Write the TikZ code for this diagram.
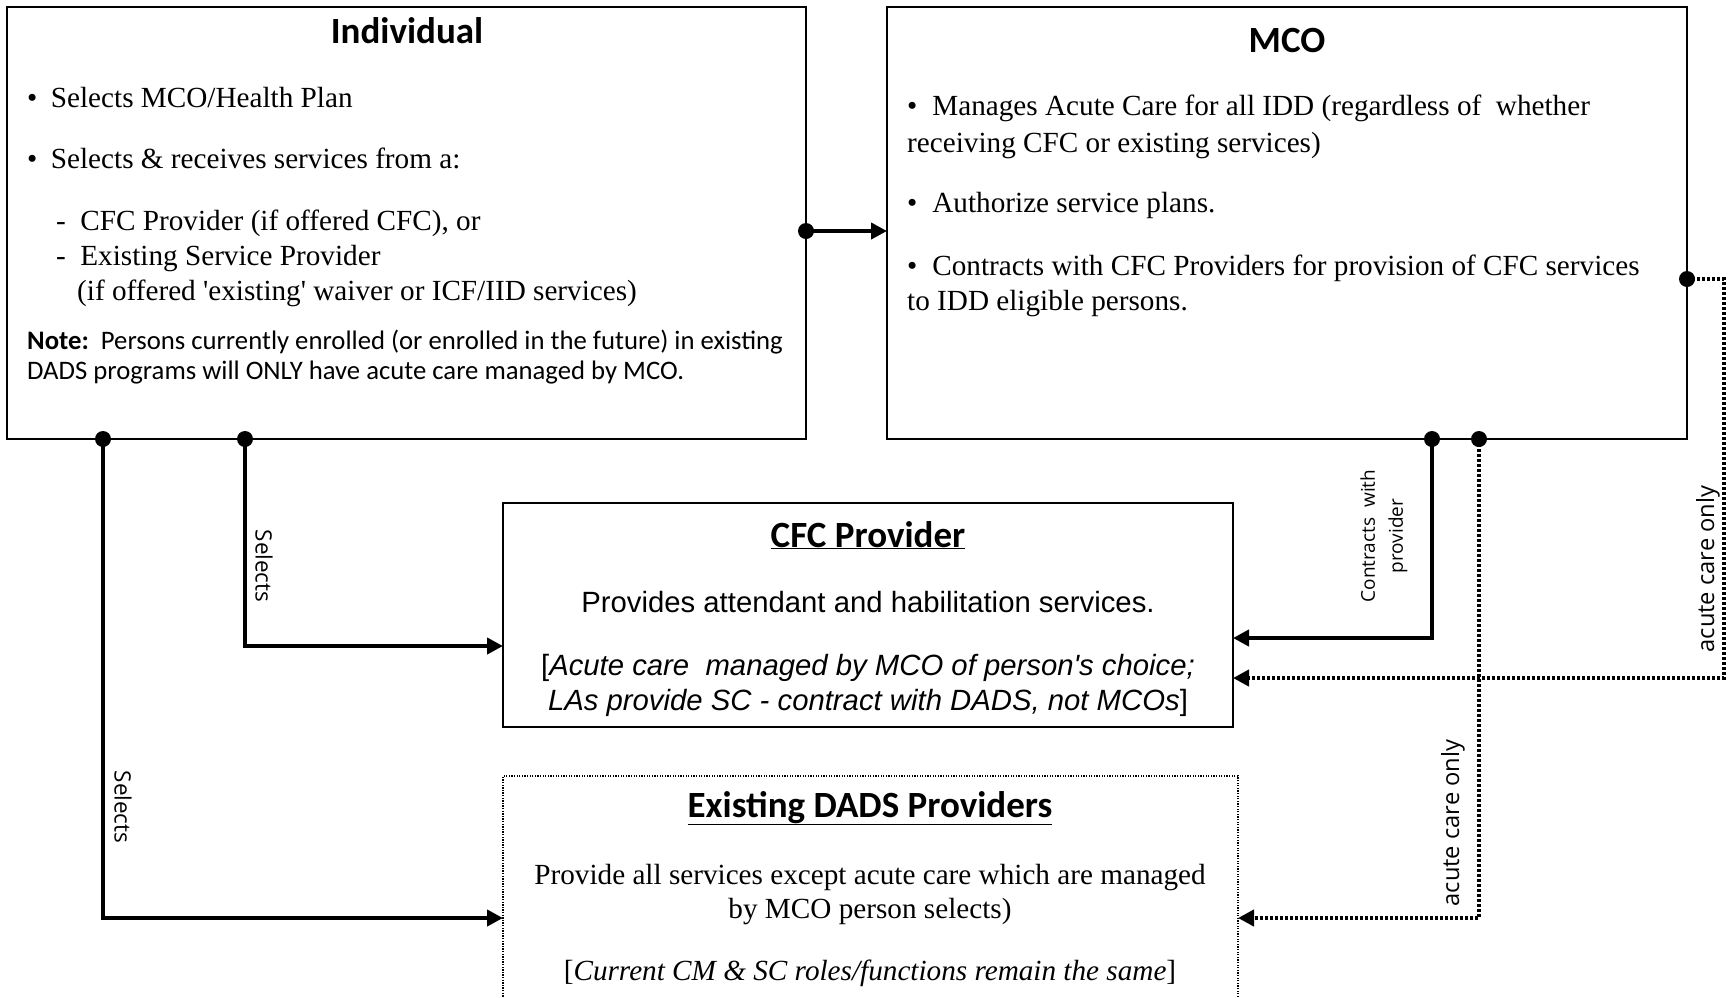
\documentclass[tikz,border=0pt]{standalone}
\usepackage{fontspec}
\newfontfamily\carlito{Carlito}
\newfontfamily\tnr{Liberation Serif}
\newfontfamily\arialf{Liberation Sans}
\newfontfamily\osans{Open Sans}
\usetikzlibrary{arrows.meta,calc}
\begin{document}
\begin{tikzpicture}[x=1pt,y=-1pt,
  box/.style={draw, line width=2pt, inner sep=0pt, outer sep=0pt, anchor=north west},
  dadsbox/.style={box, line width=1.3pt, dash pattern=on 1.3pt off 1.3pt},
  tnrtext/.style={anchor=base west, inner sep=0pt, font=\tnr\fontsize{29.2}{34}\selectfont},
  tnrc/.style={anchor=base, inner sep=0pt, font=\tnr\fontsize{29.2}{34}\selectfont},
  notetext/.style={anchor=base west, inner sep=0pt, font=\carlito\fontsize{26.7}{30}\selectfont},
  arialc/.style={anchor=base, inner sep=0pt, font=\arialf\fontsize{29.3}{34}\selectfont},
  boxtitle/.style={anchor=base, inner sep=0pt, font=\carlito\bfseries\fontsize{37}{44}\selectfont},
  lbl/.style={inner sep=0pt, font=\osans\fontsize{22.5}{27}\selectfont},
  aclbl/.style={inner sep=0pt, font=\osans\fontsize{23.7}{28}\selectfont},
  smalllbl/.style={inner sep=0pt, align=center, font=\osans\fontsize{19}{28}\selectfont},
  conn/.style={line width=4pt, -{Triangle[length=16pt,width=16pt]}},
  dotconn/.style={conn, dash pattern=on 3pt off 2pt},
  dotmark/.style={fill=black}
]
\useasboundingbox (0,0) rectangle (1732,997);
\clip (0,0) rectangle (1732,997);

% boxes
\node[box, minimum width=799pt, minimum height=432pt] (ind) at (7,7) {};
\node[box, minimum width=800pt, minimum height=432pt] (mco) at (887,7) {};
\node[box, minimum width=730pt, minimum height=224pt] (cfc) at (503,503) {};
\node[dadsbox, minimum width=735pt, minimum height=240pt] (dads) at (503,776) {};

% Individual text
\node[boxtitle] (indt) at (407,43) {Individual};
\node[tnrtext] (i1t) at (27,107) {•\hspace{13.5pt}Selects MCO/Health Plan};
\node[tnrtext] (i2t) at (27,168) {•\hspace{13.5pt}Selects \& receives services from a:};
\node[tnrtext] (i3t) at (56,230) {-\hspace{14.5pt}CFC Provider (if offered CFC), or};
\node[tnrtext] (i4t) at (56,265) {-\hspace{14.5pt}Existing Service Provider};
\node[tnrtext] (i5t) at (77,300) {(if offered \textquotesingle existing\textquotesingle\ waiver or ICF/IID services)};
\node[notetext] (n1t) at (27,349) {\textbf{Note:}\ \ Persons currently enrolled (or enrolled in the future) in existing};
\node[notetext] (n2t) at (27,379) {DADS programs will ONLY have acute care managed by MCO.};

% MCO text
\node[boxtitle] (mcot) at (1287,52) {MCO};
\node[tnrtext] (m1t) at (907,115) {•\hspace{15pt}Manages Acute Care for all IDD (regardless of\ \ whether};
\node[tnrtext] (m2t) at (907,152) {receiving CFC or existing services)};
\node[tnrtext] (m3t) at (907,212) {•\hspace{15pt}Authorize service plans.};
\node[tnrtext] (m4t) at (907,275) {•\hspace{15pt}Contracts with CFC Providers for provision of CFC services};
\node[tnrtext] (m5t) at (907,310) {to IDD eligible persons.};

% CFC text
\node[boxtitle] (cfct) at (868,547) {\underline{CFC Provider}};
\node[arialc] (c1t) at (868,612) {Provides attendant and habilitation services.};
\node[arialc] (c2t) at (868,675) {[\textit{Acute care\ \ managed by MCO of person\textquotesingle s choice;}};
\node[arialc] (c3t) at (868,710) {\textit{LAs provide SC - contract with DADS, not MCOs}]};

% DADS text
\node[boxtitle] (dadst) at (870,817) {\underline{Existing DADS Providers}};
\node[tnrc] (d1t) at (870,884) {Provide all services except acute care which are managed};
\node[tnrc] (d2t) at (870,918) {by MCO person selects)};
\node[tnrc] (d3t) at (870,980) {[\textit{Current CM \& SC roles/functions remain the same}]};

% connector points
\coordinate (indR) at ($(ind.north east)+(0,224)$);
\coordinate (mcoL) at ($(mco.north west)+(0,224)$);
\coordinate (iA) at ($(ind.south west)+(238,0)$);
\coordinate (iB) at ($(ind.south west)+(96,0)$);
\coordinate (cfcL) at ($(cfc.north west)+(0,143)$);
\coordinate (dadsL) at ($(dads.north west)+(0,142)$);
\coordinate (mA) at ($(mco.south west)+(545,0)$);
\coordinate (mB) at ($(mco.south west)+(592,0)$);
\coordinate (mC) at ($(mco.north east)+(0,272)$);
\coordinate (mCc) at ($(mC)+(37,0)$);
\coordinate (cfcR1) at ($(cfc.north east)+(0,135)$);
\coordinate (cfcR2) at ($(cfc.north east)+(0,175)$);
\coordinate (dadsR) at ($(dads.north east)+(0,142)$);

% connectors
\draw[conn] (indR) -- (mcoL);
\draw[conn] (iA) |- (cfcL);
\draw[conn] (iB) |- (dadsL);
\draw[conn] (mA) |- (cfcR1);
\draw[dotconn] (mB) |- (dadsR);
\draw[dotconn] (mC) -- (mCc) |- (cfcR2);

% dots
\foreach \p in {indR,iA,iB,mA,mB,mC} \fill[dotmark] (\p) circle (8pt);

% labels
\node[lbl, rotate=-90] (s1) at (264,566) {Selects};
\node[lbl, rotate=-90] (s2) at (123,807) {Selects};
\node[smalllbl, rotate=90] (cw) at (1384,536) {Contracts\ \ with\\provider};
\node[aclbl, rotate=90] (ac1) at (1708,569) {acute care only};
\node[aclbl, rotate=90] (ac2) at (1453,823) {acute care only};
\end{tikzpicture}
\end{document}
